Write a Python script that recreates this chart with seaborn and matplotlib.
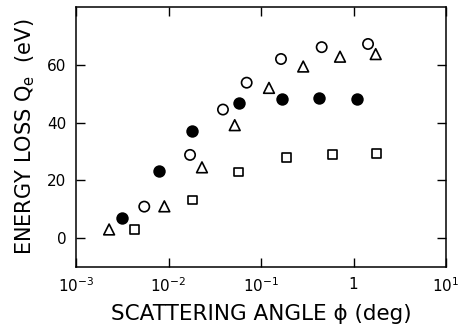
import numpy as np
import pandas as pd
import matplotlib
matplotlib.use("Agg")
import matplotlib.pyplot as plt
import seaborn as sns
from matplotlib.ticker import FixedLocator, FixedFormatter, NullLocator

# Data
filled_x = [0.00314, 0.00789, 0.0181, 0.0574, 0.1675, 0.424, 1.083]
filled_y = [6.8, 23.1, 37.1, 46.9, 48.3, 48.5, 48.2]

circle_x = [0.00547, 0.0171, 0.0388, 0.070, 0.1645, 0.453, 1.436]
circle_y = [10.9, 28.8, 44.5, 53.8, 62.0, 66.1, 67.2]

tri_x = [0.00228, 0.00902, 0.0230, 0.052, 0.122, 0.286, 0.715, 1.738]
tri_y = [3.0, 11.0, 24.5, 39.1, 52.0, 59.4, 62.8, 63.7]

sq_x = [0.00427, 0.0180, 0.0574, 0.190, 0.596, 1.78]
sq_y = [3.1, 13.2, 22.9, 27.8, 29.0, 29.3]

xtick_vals = [1e-3, 1e-2, 1e-1, 1, 10]
xtick_labels = [r"$10^{-3}$", r"$10^{-2}$", r"$10^{-1}$", "1", r"$10^{1}$"]
ytick_vals = [0, 20, 40, 60]

sns.set_theme(style="ticks")
plt.rcParams["font.family"] = ["DejaVu Sans"]
plt.rcParams["mathtext.default"] = "regular"
plt.rcParams["text.color"] = "black"
plt.rcParams["axes.labelcolor"] = "black"

fig = plt.figure(figsize=(4.59, 3.35), dpi=100)
ax = fig.add_axes([76/459, 1-267/335, (446-76)/459, (267-7)/335])

series = [
    ("filled", filled_x, filled_y, "o", "black", 60),
    ("circle", circle_x, circle_y, "o", "none", 55),
    ("triangle", tri_x, tri_y, "^", "none", 60),
    ("square", sq_x, sq_y, "s", "none", 40),
]
for name, xs, ys, mk, fc, s in series:
    df = pd.DataFrame({"angle": xs, "loss": ys})
    sns.scatterplot(data=df, x="angle", y="loss", marker=mk, s=s,
                    facecolor=fc, edgecolor="black", linewidth=1.2, ax=ax,
                    legend=False)

ax.set_xscale("log")
ax.set_xlim(1e-3, 10)
ax.set_ylim(-10, 80)
ax.xaxis.set_major_locator(FixedLocator(xtick_vals))
ax.xaxis.set_major_formatter(FixedFormatter(xtick_labels))
ax.xaxis.set_minor_locator(NullLocator())
ax.yaxis.set_major_locator(FixedLocator(ytick_vals))

ax.tick_params(direction="in", length=6.5, width=1.0, top=True, right=True,
               labelsize=11, colors="black", labelcolor="black", pad=7)
for sp in ax.spines.values():
    sp.set_linewidth(1.1)
    sp.set_color("black")

ax.set_xlabel("SCATTERING ANGLE \u03d5 (deg)", fontsize=15.5, labelpad=6,
              color="black")
ax.set_ylabel("ENERGY LOSS Q$_{e}$  (eV)", fontsize=15, labelpad=7,
              color="black")

fig.savefig("out.png", dpi=100)
